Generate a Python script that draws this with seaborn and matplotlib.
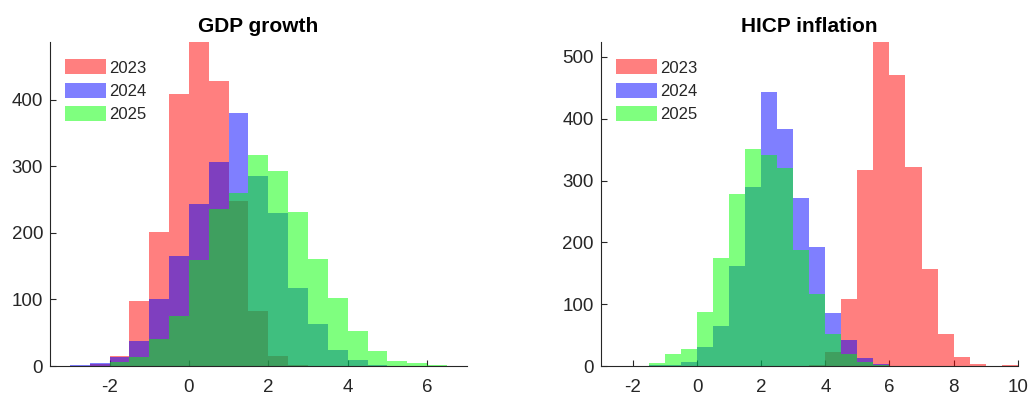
import numpy as np
import pandas as pd
import matplotlib
matplotlib.use("Agg")
import matplotlib.pyplot as plt
from matplotlib.patches import Patch
import seaborn as sns

# ---- data (bin counts, bin width 0.5) ----
years = ["2023", "2024", "2025"]
colors = ["#FF0000", "#0000FF", "#00FF00"]

gdp_range = (-3.0, 7.0)   # 20 bins
gdp_2023 = [0, 3, 15, 98, 201, 409, 487, 428, 248, 82, 15, 2, 0, 0, 0, 0, 0, 0, 0, 0]
gdp_2024 = [2, 5, 13, 38, 100, 166, 244, 307, 380, 285, 230, 118, 63, 24, 9, 2, 0, 0, 0, 0]
gdp_2025 = [0, 0, 6, 14, 40, 75, 159, 236, 260, 318, 293, 231, 161, 102, 52, 22, 8, 4, 1, 0]

hicp_range = (-3.0, 10.0)  # 26 bins
hicp_2023 = [0, 0, 0, 0, 0, 0, 0, 0, 0, 0, 0, 0, 0, 1, 23, 109, 317, 524, 470, 322, 157, 51, 14, 3, 0, 2]
hicp_2024 = [0, 0, 0, 1, 1, 6, 31, 65, 161, 289, 444, 384, 271, 193, 86, 42, 13, 3, 0, 0, 0, 0, 0, 0, 0, 0]
hicp_2025 = [0, 0, 0, 5, 19, 28, 87, 175, 278, 351, 342, 321, 188, 116, 52, 19, 6, 1, 0, 0, 0, 0, 0, 0, 0, 0]
binwidth = 0.5

panels = [
    ("GDP growth", gdp_range, [gdp_2023, gdp_2024, gdp_2025], (-3.5, 7.0), [-2, 0, 2, 4, 6], [0, 100, 200, 300, 400]),
    ("HICP inflation", hicp_range, [hicp_2023, hicp_2024, hicp_2025], (-3.0, 10.0), [-2, 0, 2, 4, 6, 8, 10], [0, 100, 200, 300, 400, 500]),
]

sns.set_theme(style="white")
plt.rcParams["font.family"] = ["Liberation Sans", "DejaVu Sans"]
plt.rcParams["axes.unicode_minus"] = False

fig = plt.figure(figsize=(10.29, 3.95), dpi=100)
axes = [fig.add_axes([0.0486, 0.0734, 0.405, 0.820]),
        fig.add_axes([0.584, 0.0734, 0.405, 0.820])]

dark = "#262626"
for ax, (title, brange, series, xlim, xt, yt) in zip(axes, panels):
    edges = np.arange(brange[0], brange[1] + binwidth / 2, binwidth)
    centers = (edges[:-1] + edges[1:]) / 2
    ymax = 0
    for yr, col, counts in zip(years, colors, series):
        df = pd.DataFrame({"x": centers, "w": np.asarray(counts, dtype=float)})
        sns.histplot(data=df, x="x", weights="w", binwidth=binwidth, binrange=brange,
                     element="step", fill=True, color=col, alpha=0.5,
                     linewidth=0, ax=ax)
        ymax = max(ymax, max(counts))
    ax.set_xlim(*xlim)
    ax.set_ylim(0, ymax)
    ax.set_xticks(xt)
    ax.set_yticks(yt)
    ax.set_xlabel("")
    ax.set_ylabel("")
    ax.set_title(title, fontsize=15, fontweight="bold", color="black", pad=7)
    for s in ["top", "right"]:
        ax.spines[s].set_visible(False)
    for s in ["left", "bottom"]:
        ax.spines[s].set_color(dark)
        ax.spines[s].set_linewidth(0.8)
    ax.tick_params(axis="both", direction="in", length=4, width=0.8,
                   colors=dark, labelsize=13.5, labelcolor=dark,
                   bottom=True, left=True)
    ax.tick_params(axis="x", pad=9)
    ax.tick_params(axis="y", pad=5)
    handles = [Patch(facecolor=c, alpha=0.5, edgecolor="none") for c in colors]
    ax.legend(handles, years, loc="upper left", frameon=False, fontsize=12,
              handlelength=2.45, handleheight=1.0, handletextpad=0.2,
              labelspacing=0.42, borderaxespad=0.0, bbox_to_anchor=(0.02, 0.967))

fig.savefig("out.png", dpi=100)
